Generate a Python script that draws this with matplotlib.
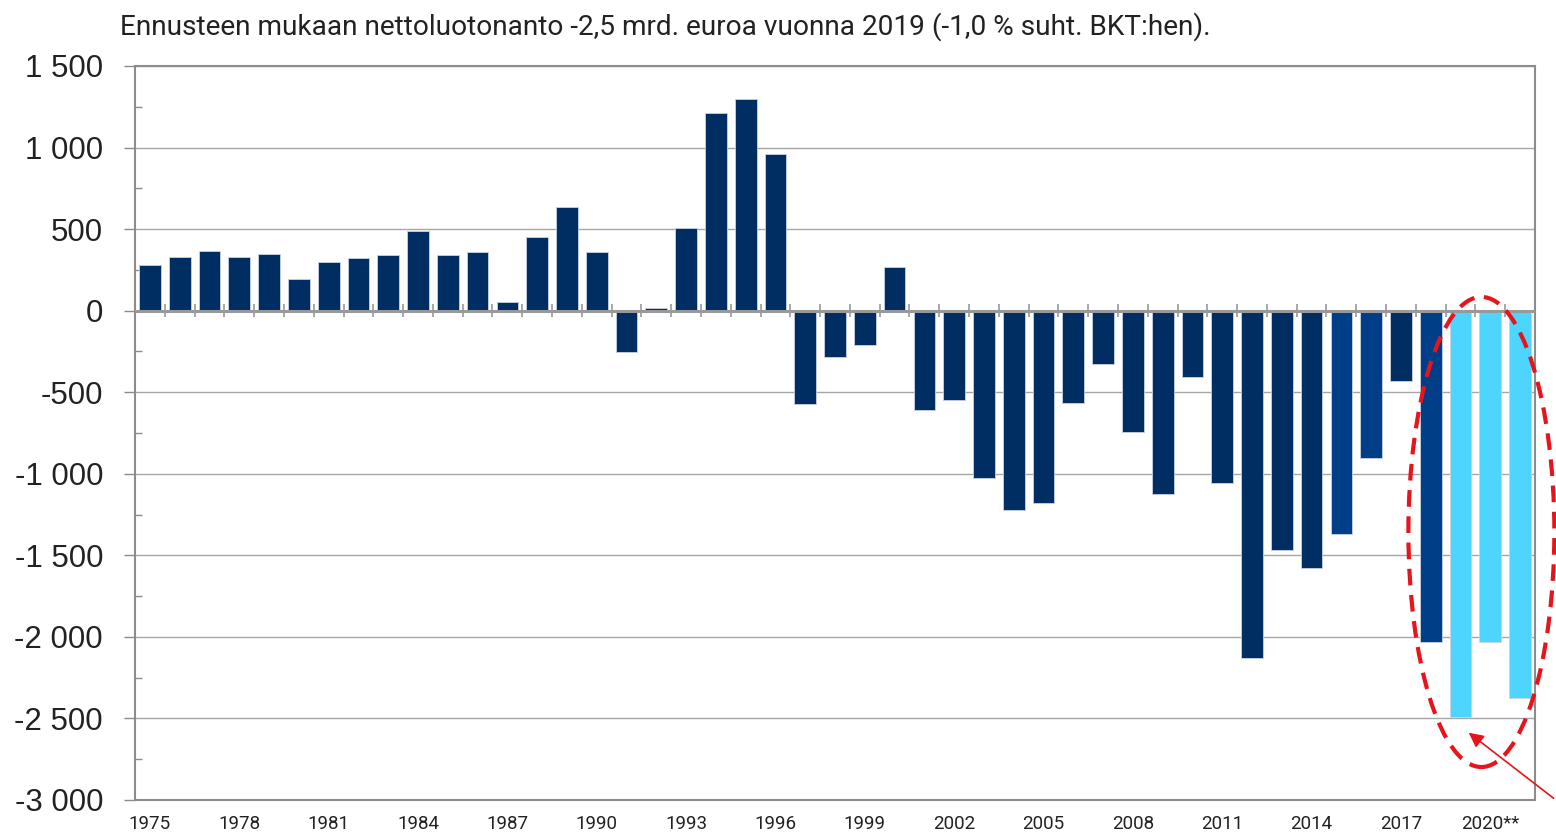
import matplotlib.pyplot as plt
from matplotlib.patches import Ellipse

# ── data ─────────────────────────────────────────────────────────────────────
years = list(range(1975, 2022))
values = [280, 330, 365, 330, 350, 195, 300, 320, 340, 490,
          340, 360, 50, 450, 635, 360, -255, 15, 505, 1210,
          1300, 960, -575, -285, -210, 265, -610, -545, -1025, -1225,
          -1180, -565, -330, -745, -1125, -405, -1055, -2130, -1465, -1575,
          -1370, -905, -430, -2030, -2490, -2030, -2375]
# bar group: 0 = history, 1 = newer/estimate, 2 = forecast
groups = [0] * 40 + [1, 1, 0, 1, 2, 2, 2]

x_labels = ["1975", "1978", "1981", "1984", "1987", "1990", "1993", "1996",
            "1999", "2002", "2005", "2008", "2011", "2014", "2017", "2020**"]
y_ticks = [1500, 1000, 500, 0, -500, -1000, -1500, -2000, -2500, -3000]
y_labels = ["1 500", "1 000", "500", "0", "-500", "-1 000", "-1 500",
            "-2 000", "-2 500", "-3 000"]

title = ("Ennusteen mukaan nettoluotonanto -2,5 mrd. euroa vuonna 2019 "
         "(-1,0 % suht. BKT:hen).")

COLORS = {0: "#002D62", 1: "#003F87", 2: "#4DD5FF"}
GRID = "#A6A6A6"

# ── figure ───────────────────────────────────────────────────────────────────
fig = plt.figure(figsize=(15.56, 8.34), dpi=100)
ax = fig.add_axes([0.0868, 0.0408, 0.8997, 0.8801])

pos = list(range(len(years)))
ax.bar(pos, values, width=0.73, color=[COLORS[g] for g in groups],
       edgecolor="#C9D3E2", linewidth=0.6, zorder=3)

ax.set_xlim(-0.5, len(years) - 0.5)
ax.set_ylim(-3000, 1500)

# y axis
ax.set_yticks(y_ticks)
ax.set_yticklabels(y_labels, fontsize=22.5, family="Liberation Sans",
                   color="#222222")
ax.set_yticks(range(-2750, 1500, 500), minor=True)
ax.tick_params(axis="y", which="major", direction="out", length=8,
               width=1, color="#8C8C8C", pad=15)
ax.tick_params(axis="y", which="minor", direction="in", length=5,
               width=1, color="#8C8C8C")
ax.yaxis.grid(True, color=GRID, linewidth=1, zorder=0)

# x axis: labels every third year, no ticks
lab_pos = [years.index(int(s.rstrip("*"))) for s in x_labels]
ax.set_xticks(lab_pos)
ax.set_xticklabels(x_labels, fontsize=13.5, family="Roboto", color="#222222")
ax.tick_params(axis="x", length=0, pad=11)

# zero line with small category separators
ax.axhline(0, color="#999999", linewidth=2.2, zorder=4)
ax.vlines([p + 0.5 for p in pos[:-1]], -40, 40, color="#999999",
          linewidth=1.2, zorder=4)

for s in ax.spines.values():
    s.set_color("#8C8C8C")
    s.set_linewidth(1.5)

fig.text(0.077, 0.968, title, fontsize=20.2, family="Roboto",
         color="#222222", va="center", ha="left")

# highlight of the forecast years
ell = Ellipse((44.7, -1357), 4.9, 2882, fill=False, edgecolor="#E8141C",
              linestyle=(0, (4, 2.3)), linewidth=3, zorder=6,
              clip_on=False)
ax.add_patch(ell)
ax.annotate("", xy=(44.2, -2577), xytext=(47.2, -3000),
            arrowprops=dict(arrowstyle="-|>", color="#E8141C", lw=1.2,
                            mutation_scale=22),
            annotation_clip=False, zorder=6)

fig.savefig("out.png", dpi=100)
